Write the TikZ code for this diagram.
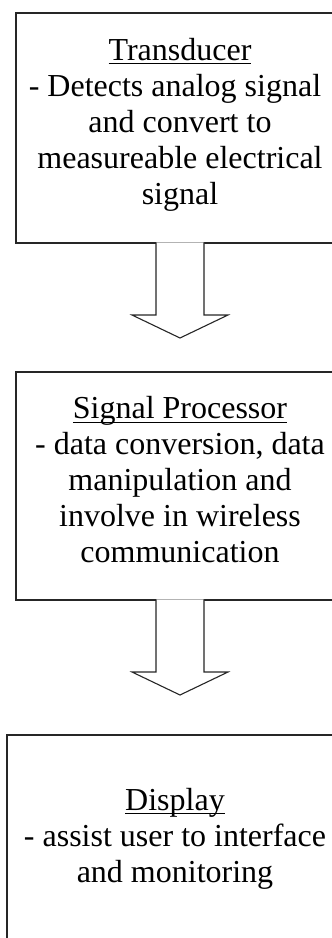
\documentclass[tikz,border=0pt]{standalone}
\usepackage{fontspec}
\setmainfont{Liberation Serif}
% underline set at a fixed depth below the baseline (runs through descenders)
\newcommand\uword[1]{\setbox0\hbox{#1}\rlap{\rule[-4pt]{\wd0}{1.2pt}}\box0}
\tikzset{
  box/.style={draw=black!85, line width=1.1pt, inner sep=0pt, outer sep=0pt},
  label text/.style={align=center, inner sep=0pt, font=\fontsize{32}{36}\selectfont},
  blockarrow/.style={draw=black!85, fill=white, line width=1.1pt, line join=miter}
}
\begin{document}
\begin{tikzpicture}[x=1pt, y=-1pt]
\useasboundingbox (0,0) rectangle (332,938);
\clip (0,0) rectangle (332,938);

% the three stage boxes
\node[box, minimum width=328pt, minimum height=230pt] (b1) at (180,128) {};
\node[box, minimum width=328pt, minimum height=228pt] (b2) at (180,486) {};
\node[box, minimum width=336pt, minimum height=226pt] (b3) at (175,848) {};

% box texts
\node[label text] (t1) at (180,124.5) {\uword{Transducer}\\\hbox{- Detects analog signal\kern10pt}\\and convert to\\measureable electrical\\signal};
\node[label text] (t2) at (180,480) {\uword{Signal Processor}\\- data conversion, data\\manipulation and\\involve in wireless\\communication};
\node[label text] (t3) at (175,838.5) {\uword{Display}\\- assist user to interface\\and monitoring};

% hollow block arrows between the stages (open at the top so the box edge breaks)
\draw[blockarrow] ([xshift=-24pt,yshift=0.6pt]b1.south) -- ++(0,72.6) -- ++(-24,0)
  -- ++(48,23) -- ++(48,-23) -- ++(-24,0) -- ++(0,-72.6);
\draw[blockarrow] ([xshift=-24pt,yshift=0.6pt]b2.south) -- ++(0,72.6) -- ++(-24,0)
  -- ++(48,23) -- ++(48,-23) -- ++(-24,0) -- ++(0,-72.6);
\end{tikzpicture}
\end{document}
